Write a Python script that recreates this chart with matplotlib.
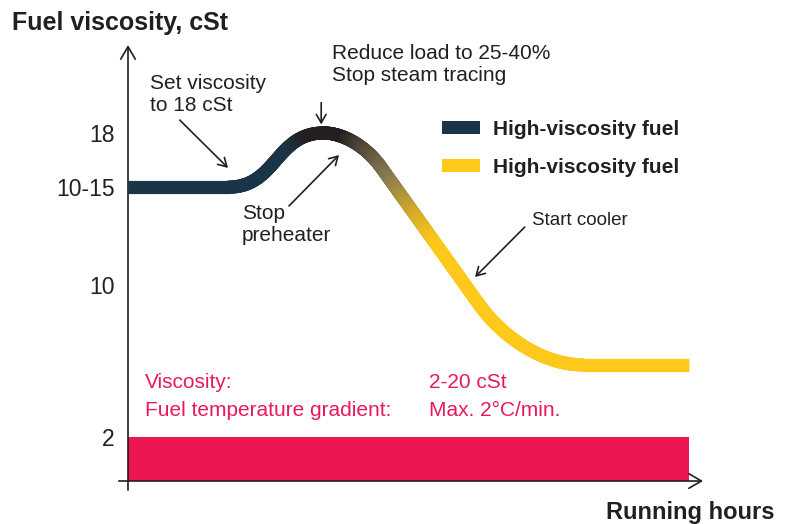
import numpy as np
import matplotlib
matplotlib.use("Agg")
import matplotlib.pyplot as plt
from matplotlib.path import Path
from matplotlib.collections import LineCollection
from matplotlib.colors import LinearSegmentedColormap, Normalize
from matplotlib.patches import Patch

plt.rcParams['font.family'] = ['Liberation Sans', 'DejaVu Sans']

# ---------------- data ----------------
# key points of the schematic viscosity curve (running hours, cSt)
hours = [0, 17.5, 34.0, 44.0, 61.0, 79.0, 97.5]
viscosity = [15.15, 15.15, 18, 16.2, 9.0, 5.8, 5.8]
band_end = 97.5          # end of the red minimum-viscosity band
band_top = 2             # cSt
ytick_values = [2, 10, 15.15, 18]
ytick_labels = ['2', '10', '10-15', '18']
legend_labels = ['High-viscosity fuel', 'High-viscosity fuel']
# colour ramp along the curve (hours -> colour)
grad_hours = [28.0, 31.5, 37.5, 45.5, 50.0, 54.0]
grad_colors = ['#1b3548', '#231f20', '#231f20', '#857852', '#d3aa2c', '#fec91b']

NAVY = '#1b3548'
YELLOW = '#fec91b'
RED = '#ec1651'
PINK = '#e8195b'
INK = '#231f20'

fig = plt.figure(figsize=(7.87, 5.24), dpi=100)
ax = fig.add_axes([128/787, 43/524, 575/787, 436/524])
ax.set_xlim(0, 100)
ax.set_ylim(-0.316, 22.63)
for s in ax.spines.values():
    s.set_visible(False)
ax.set_xticks([])
ax.set_yticks(ytick_values, ytick_labels)
ax.tick_params(axis='y', length=0, pad=9.4, labelsize=16.5, labelcolor=INK)

# red band
ax.fill_between([0, band_end], ax.get_ylim()[0], band_top, color=RED, lw=0, zorder=1)

# ---------------- smooth curve ----------------
P = [np.array([h, v], dtype=float) for h, v in zip(hours, viscosity)]
descent = P[4] - P[3]
slope = descent[1] / descent[0]
verts, codes = [P[1]], [Path.MOVETO]
# S-curve up to the peak (horizontal tangents)
half = 0.5 * (P[2][0] - P[1][0])
verts += [P[1] + [half, 0], P[2] - [half, 0], P[2]]
codes += [Path.CURVE4] * 3
# rounded peak into the descending slope
hx = P[3][0] - (P[2][1] - P[3][1]) / -slope   # where the slope line reaches peak level
corner = np.array([hx, P[2][1]])
verts += [P[2] + [0.6 * (hx - P[2][0]), 0], P[3] + 0.6 * (corner - P[3]), P[3]]
codes += [Path.CURVE4] * 3
# straight descent
verts += [P[4]]
codes += [Path.LINETO]
# rounded foot into the plateau
hx2 = P[4][0] + (P[5][1] - P[4][1]) / slope
corner2 = np.array([hx2, P[5][1]])
verts += [P[4] + 0.6 * (corner2 - P[4]), P[5] + 0.6 * (corner2 - P[5]), P[5]]
codes += [Path.CURVE4] * 3
path = Path(np.array(verts), codes)

pts = []
for seg, code in path.iter_bezier():
    t = np.linspace(0, 1, 120)
    pts.append(seg(t))
pts = np.vstack(pts)
segs = np.stack([pts[:-1], pts[1:]], axis=1)
mid_h = 0.5 * (pts[:-1, 0] + pts[1:, 0])

lo, hi = grad_hours[0], grad_hours[-1]
nodes = [(h - lo) / (hi - lo) for h in grad_hours]
cmap = LinearSegmentedColormap.from_list('fuel', list(zip(nodes, grad_colors)))
norm = Normalize(lo, hi, clip=True)

LW = 9.5
ax.plot(hours[0:2], viscosity[0:2], color=NAVY, lw=LW, solid_capstyle='butt', zorder=2)
ax.plot(hours[5:7], viscosity[5:7], color=YELLOW, lw=LW, solid_capstyle='butt', zorder=2)
lc = LineCollection(segs, colors=cmap(norm(mid_h)), linewidths=LW, capstyle='round',
                    joinstyle='round', zorder=2)
ax.add_collection(lc)

# ---------------- axes arrows ----------------
axis_arrow = dict(arrowstyle='->,head_length=0.6,head_width=0.35', lw=1.2, color=INK,
                  shrinkA=0, shrinkB=0, mutation_scale=15)
ax.annotate('', xy=(0, 1), xytext=(0, -0.021), xycoords='axes fraction',
            arrowprops=axis_arrow, annotation_clip=False)
ax.annotate('', xy=(1, 0), xytext=(-0.016, 0), xycoords='axes fraction',
            arrowprops=axis_arrow, annotation_clip=False)

# ---------------- annotations ----------------
note_arrow = dict(arrowstyle='->,head_length=0.6,head_width=0.35', lw=1.2, color=INK,
                  shrinkA=0, shrinkB=0, mutation_scale=10)
ax.annotate('', xy=(17.4, 16.16), xytext=(9.0, 18.68), arrowprops=note_arrow)
ax.annotate('', xy=(33.6, 18.45), xytext=(33.6, 19.6), arrowprops=note_arrow)
ax.annotate('', xy=(36.7, 16.84), xytext=(28.0, 14.16), arrowprops=note_arrow)
ax.annotate('', xy=(60.35, 10.42), xytext=(69.0, 13.05), arrowprops=note_arrow)

tkw = dict(color=INK, fontsize=15, ha='left', va='center', linespacing=1.2)
ax.text(3.8, 20.0, 'Set viscosity\nto 18 cSt', **tkw)
ax.text(35.5, 21.58, 'Reduce load to 25-40%\nStop steam tracing', **tkw)
ax.text(19.8, 13.16, 'Stop\npreheater', **tkw)
ax.text(70.3, 13.37, 'Start cooler', color=INK, fontsize=13.5, ha='left', va='center')

rkw = dict(color=PINK, fontsize=15, ha='left', va='center')
ax.text(2.96, 4.89, 'Viscosity:', **rkw)
ax.text(2.96, 3.42, 'Fuel temperature gradient:', **rkw)
ax.text(52.35, 4.89, '2-20 cSt', **rkw)
ax.text(52.35, 3.42, 'Max. 2°C/min.', **rkw)

# legend
handles = [Patch(facecolor=NAVY, edgecolor='none'), Patch(facecolor=YELLOW, edgecolor='none')]
leg = ax.legend(handles, legend_labels, loc='upper left', bbox_to_anchor=(0.546, 0.828),
                frameon=False, borderpad=0, borderaxespad=0, handlelength=1.83,
                handleheight=0.625, handletextpad=0.6, labelspacing=0.9,
                prop={'weight': 'bold', 'size': 15})
for t in leg.get_texts():
    t.set_color(INK)

fig.text(12/787, 1 - 23/524, 'Fuel viscosity, cSt', fontsize=18, fontweight='bold',
         color=INK, ha='left', va='center')
fig.text(775/787, 1 - 513/524, 'Running hours', fontsize=17, fontweight='bold',
         color=INK, ha='right', va='center')

fig.savefig('out.png', dpi=100)
